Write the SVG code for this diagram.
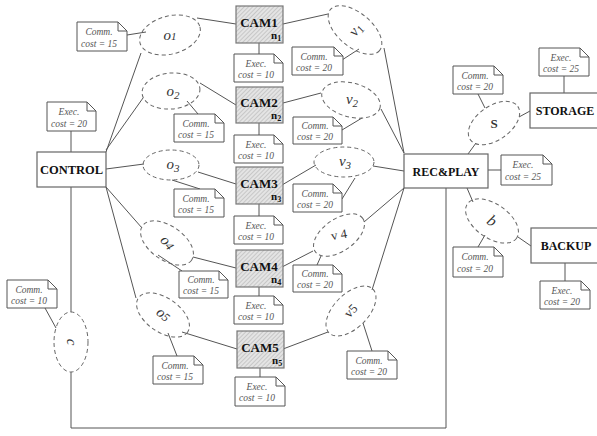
<svg xmlns="http://www.w3.org/2000/svg" width="597" height="436" viewBox="0 0 597 436">
<defs>
<pattern id="hatch" width="3" height="3" patternUnits="userSpaceOnUse" patternTransform="rotate(45)">
<rect width="3" height="3" fill="#e4e4e4"/>
<line x1="0" y1="0" x2="0" y2="3" stroke="#9a9a9a" stroke-width="0.8"/>
</pattern>
</defs>
<style>
.box{fill:#fff;stroke:#666;stroke-width:1.2}
.cam{fill:url(#hatch);stroke:#777;stroke-width:1.2}
.note{fill:#fff;stroke:#555;stroke-width:1}
text{font-family:'Liberation Serif','Times New Roman','DejaVu Serif',serif}
.nt{font-style:italic;font-size:9.5px;fill:#555;text-anchor:middle}
.bt{font-weight:bold;font-size:12px;fill:#111;text-anchor:middle}
.ct{font-weight:bold;font-size:13px;fill:#111;text-anchor:middle}
.nn{font-weight:bold;font-size:11px;fill:#111}
.el{fill:none;stroke:#666;stroke-width:1;stroke-dasharray:4,3}
.lb{font-style:italic;font-size:15px;fill:#333;text-anchor:middle}
.cn line,.cn polyline{stroke:#555;stroke-width:1;fill:none}
</style>
<rect width="597" height="436" fill="#fff"/>
<g class="cn" id="connectors">
<line x1="106" y1="152" x2="141" y2="53"/>
<line x1="197" y1="18" x2="236" y2="24"/>
<line x1="127" y1="35" x2="146" y2="32"/>
<line x1="71" y1="131" x2="71" y2="152"/>
<line x1="259" y1="43" x2="259" y2="54"/>
<line x1="283" y1="24" x2="328" y2="14"/>
<line x1="342" y1="60" x2="359" y2="49"/>
<line x1="384" y1="48" x2="404" y2="153"/>
<line x1="106" y1="150" x2="143" y2="98"/>
<line x1="200" y1="83" x2="236" y2="105"/>
<line x1="187" y1="101" x2="198" y2="114"/>
<line x1="259" y1="123" x2="259" y2="135"/>
<line x1="283" y1="103" x2="321" y2="93"/>
<line x1="342" y1="130" x2="362" y2="118"/>
<line x1="381" y1="109" x2="404" y2="153"/>
<line x1="106" y1="169" x2="144" y2="164"/>
<line x1="198" y1="172" x2="236" y2="184"/>
<line x1="172" y1="180" x2="200" y2="189"/>
<line x1="259" y1="204" x2="259" y2="216"/>
<line x1="282" y1="185" x2="316" y2="165"/>
<line x1="342" y1="199" x2="355" y2="178"/>
<line x1="373" y1="166" x2="404" y2="171"/>
<line x1="106" y1="187" x2="142" y2="228"/>
<line x1="193" y1="257" x2="236" y2="268"/>
<line x1="158" y1="255" x2="182" y2="271"/>
<line x1="259" y1="287" x2="259" y2="296"/>
<line x1="282" y1="267" x2="313" y2="251"/>
<line x1="321" y1="256" x2="317" y2="265"/>
<line x1="364" y1="222" x2="404" y2="188"/>
<line x1="106" y1="187" x2="136" y2="298"/>
<line x1="182" y1="332" x2="237" y2="349"/>
<line x1="168" y1="333" x2="177" y2="356"/>
<line x1="260" y1="368" x2="260" y2="377"/>
<line x1="283" y1="349" x2="328" y2="332"/>
<line x1="363" y1="323" x2="372" y2="351"/>
<line x1="372" y1="290" x2="404" y2="188"/>
<line x1="71" y1="187" x2="71" y2="312"/>
<polyline points="71,372 71,428 446,428 446,188"/>
<line x1="45" y1="308" x2="56" y2="328"/>
<line x1="488" y1="170" x2="501" y2="170"/>
<line x1="468" y1="154" x2="476" y2="143"/>
<line x1="478" y1="94" x2="485" y2="108"/>
<line x1="519" y1="117" x2="530" y2="111"/>
<line x1="564" y1="76" x2="564" y2="93"/>
<line x1="467" y1="188" x2="473" y2="202"/>
<line x1="518" y1="237" x2="531" y2="246"/>
<line x1="478" y1="247" x2="485" y2="235"/>
<line x1="565" y1="263" x2="565" y2="281"/>
</g>
<g id="control"><rect class="box" x="37" y="152" width="69" height="35"/><text class="bt" x="71.5" y="174" style="font-size:12.5px">CONTROL</text></g>
<g id="recplay"><rect class="box" x="404" y="154" width="84" height="34"/><text class="bt" x="446" y="175.5">REC&amp;PLAY</text></g>
<g id="storage"><rect class="box" x="530" y="93" width="70" height="35"/><text class="bt" x="565" y="115">STORAGE</text></g>
<g id="backup"><rect class="box" x="531" y="228" width="70" height="35"/><text class="bt" x="566" y="250">BACKUP</text></g>
<g id="cam1"><rect class="cam" x="236" y="6" width="47" height="37"/><text class="ct" x="259" y="27">CAM1</text><text class="nn" x="271" y="39">n<tspan font-size="8" dy="2">1</tspan></text></g>
<g id="cam2"><rect class="cam" x="236" y="87" width="47" height="36"/><text class="ct" x="259" y="107">CAM2</text><text class="nn" x="271" y="119">n<tspan font-size="8" dy="2">2</tspan></text></g>
<g id="cam3"><rect class="cam" x="236" y="167" width="47" height="37"/><text class="ct" x="259" y="188">CAM3</text><text class="nn" x="271" y="200">n<tspan font-size="8" dy="2">3</tspan></text></g>
<g id="cam4"><rect class="cam" x="236" y="250" width="47" height="37"/><text class="ct" x="259" y="271">CAM4</text><text class="nn" x="271" y="283">n<tspan font-size="8" dy="2">4</tspan></text></g>
<g id="cam5"><rect class="cam" x="237" y="331" width="47" height="37"/><text class="ct" x="260" y="352">CAM5</text><text class="nn" x="272" y="364">n<tspan font-size="8" dy="2">5</tspan></text></g>
<g id="o1"><ellipse class="el" cx="170" cy="35" rx="31" ry="19" transform="rotate(-15 170 35)"/><text class="lb" x="170" y="40">o<tspan font-size="11">1</tspan></text></g>
<g id="o2"><ellipse class="el" cx="171" cy="91" rx="29" ry="18" transform="rotate(-5 171 91)"/><text class="lb" x="173" y="96">o<tspan font-size="11" dy="3">2</tspan></text></g>
<g id="o3"><ellipse class="el" cx="171" cy="165" rx="28" ry="15"/><text class="lb" x="173" y="169">o<tspan font-size="11" dy="3">3</tspan></text></g>
<g id="o4"><ellipse class="el" cx="167" cy="243" rx="30" ry="17" transform="rotate(35 167 243)"/><text class="lb" x="167" y="247" transform="rotate(50 167 243)">o<tspan font-size="12">4</tspan></text></g>
<g id="o5"><ellipse class="el" cx="163" cy="315" rx="30" ry="17" transform="rotate(35 163 315)"/><text class="lb" x="163" y="319" transform="rotate(40 163 315)">o<tspan font-size="12">5</tspan></text></g>
<g id="c"><ellipse class="el" cx="71" cy="342" rx="17" ry="30"/><text class="lb" x="71" y="346" transform="rotate(90 71 342)">c</text></g>
<g id="v1"><ellipse class="el" cx="355" cy="30" rx="32" ry="17" transform="rotate(40 355 30)"/><text class="lb" x="356" y="34" transform="rotate(-55 356 30)">v<tspan font-size="11" dy="3">1</tspan></text></g>
<g id="v2"><ellipse class="el" cx="351" cy="100" rx="30" ry="17" transform="rotate(15 351 100)"/><text class="lb" x="352" y="104">v<tspan font-size="11" dy="3">2</tspan></text></g>
<g id="v3"><ellipse class="el" cx="344" cy="162" rx="30" ry="15"/><text class="lb" x="345" y="166">v<tspan font-size="11" dy="3">3</tspan></text></g>
<g id="v4"><ellipse class="el" cx="339" cy="235" rx="29" ry="16" transform="rotate(-35 339 235)"/><text class="lb" x="339" y="239" style="font-style:normal;font-size:13px" transform="rotate(-10 339 235)">v 4</text></g>
<g id="v5"><ellipse class="el" cx="351" cy="311" rx="31" ry="17" transform="rotate(-45 351 311)"/><text class="lb" x="351" y="315" style="font-style:normal;font-size:13px" transform="rotate(-45 351 311)">v5</text></g>
<g id="s"><ellipse class="el" cx="494" cy="123" rx="29" ry="17" transform="rotate(-35 494 123)"/><text class="lb" x="494" y="128" style="font-style:normal;font-weight:bold;font-size:13px">S</text></g>
<g id="b"><ellipse class="el" cx="492" cy="221" rx="30" ry="17" transform="rotate(35 492 221)"/><text class="lb" x="492" y="226" style="font-size:16px" transform="rotate(35 492 221)">b</text></g>
<g id="note_o1"><path class="note" d="M77 22H118L127 31V51H77Z M118 22V31H127"/><text class="nt" x="99" y="35">Comm.</text><text class="nt" x="99" y="47">cost = 15</text></g>
<g id="note_control"><path class="note" d="M47 102H87L96 111V131H47Z M87 102V111H96"/><text class="nt" x="69" y="115">Exec.</text><text class="nt" x="69" y="127">cost = 20</text></g>
<g id="note_cam1"><path class="note" d="M234 54H274L283 63V82H234Z M274 54V63H283"/><text class="nt" x="256" y="67">Exec.</text><text class="nt" x="256" y="78">cost = 10</text></g>
<g id="note_v1"><path class="note" d="M292 47H334L343 56V75H292Z M334 47V56H343"/><text class="nt" x="314" y="60">Comm.</text><text class="nt" x="314" y="71">cost = 20</text></g>
<g id="note_o2"><path class="note" d="M174 114H215L224 123V142H174Z M215 114V123H224"/><text class="nt" x="196" y="127">Comm.</text><text class="nt" x="196" y="138">cost = 15</text></g>
<g id="note_cam2"><path class="note" d="M234 135H274L283 144V163H234Z M274 135V144H283"/><text class="nt" x="256" y="148">Exec.</text><text class="nt" x="256" y="159">cost = 10</text></g>
<g id="note_v2"><path class="note" d="M293 117H333L342 126V144H293Z M333 117V126H342"/><text class="nt" x="315" y="129">Comm.</text><text class="nt" x="315" y="140">cost = 20</text></g>
<g id="note_o3"><path class="note" d="M174 189H215L224 198V217H174Z M215 189V198H224"/><text class="nt" x="196" y="202">Comm.</text><text class="nt" x="196" y="213">cost = 15</text></g>
<g id="note_cam3"><path class="note" d="M234 216H274L283 225V244H234Z M274 216V225H283"/><text class="nt" x="256" y="229">Exec.</text><text class="nt" x="256" y="240">cost = 10</text></g>
<g id="note_v3"><path class="note" d="M293 184H333L342 193V212H293Z M333 184V193H342"/><text class="nt" x="315" y="197">Comm.</text><text class="nt" x="315" y="208">cost = 20</text></g>
<g id="note_o4"><path class="note" d="M179 271H219L228 280V298H179Z M219 271V280H228"/><text class="nt" x="201" y="283">Comm.</text><text class="nt" x="201" y="294">cost = 15</text></g>
<g id="note_cam4"><path class="note" d="M234 296H274L283 305V324H234Z M274 296V305H283"/><text class="nt" x="256" y="309">Exec.</text><text class="nt" x="256" y="320">cost = 10</text></g>
<g id="note_v4"><path class="note" d="M293 265H333L342 274V292H293Z M333 265V274H342"/><text class="nt" x="315" y="277">Comm.</text><text class="nt" x="315" y="288">cost = 20</text></g>
<g id="note_o5"><path class="note" d="M153 356H194L203 365V384H153Z M194 356V365H203"/><text class="nt" x="175" y="369">Comm.</text><text class="nt" x="175" y="380">cost = 15</text></g>
<g id="note_cam5"><path class="note" d="M235 377H276L285 386V406H235Z M276 377V386H285"/><text class="nt" x="257" y="390">Exec.</text><text class="nt" x="257" y="401">cost = 10</text></g>
<g id="note_v5"><path class="note" d="M347 351H388L397 360V379H347Z M388 351V360H397"/><text class="nt" x="369" y="364">Comm.</text><text class="nt" x="369" y="375">cost = 20</text></g>
<g id="note_c"><path class="note" d="M7 280H48L57 289V308H7Z M48 280V289H57"/><text class="nt" x="29" y="293">Comm.</text><text class="nt" x="29" y="304">cost = 10</text></g>
<g id="note_recplay"><path class="note" d="M501 155H543L552 164V185H501Z M543 155V164H552"/><text class="nt" x="523" y="168">Exec.</text><text class="nt" x="523" y="180">cost = 25</text></g>
<g id="note_s"><path class="note" d="M453 66H494L503 75V94H453Z M494 66V75H503"/><text class="nt" x="475" y="79">Comm.</text><text class="nt" x="475" y="90">cost = 20</text></g>
<g id="note_storage"><path class="note" d="M539 48H580L589 57V76H539Z M580 48V57H589"/><text class="nt" x="561" y="61">Exec.</text><text class="nt" x="561" y="72">cost = 25</text></g>
<g id="note_b"><path class="note" d="M453 247H494L503 256V277H453Z M494 247V256H503"/><text class="nt" x="475" y="260">Comm.</text><text class="nt" x="475" y="272">cost = 20</text></g>
<g id="note_backup"><path class="note" d="M540 281H581L590 290V309H540Z M581 281V290H590"/><text class="nt" x="562" y="294">Exec.</text><text class="nt" x="562" y="305">cost = 20</text></g>
</svg>
